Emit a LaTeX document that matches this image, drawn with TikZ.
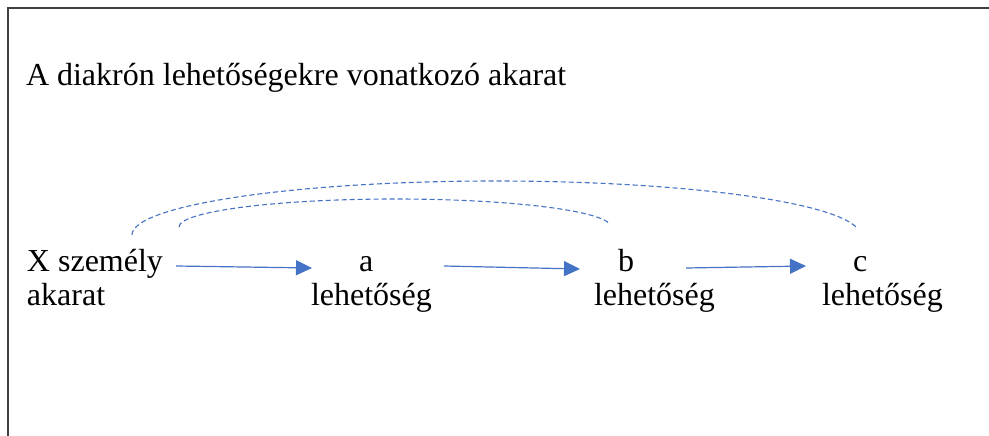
\documentclass[tikz,border=0pt]{standalone}
\usepackage{fontspec}
\setmainfont{Liberation Serif}
\usetikzlibrary{arrows.meta}
\definecolor{accentblue}{RGB}{68,114,196}
\definecolor{framegray}{RGB}{64,64,64}
\tikzset{
  txt/.style={anchor=base west, inner sep=0pt, outer sep=0pt, font=\fontsize{32}{34}\selectfont},
  flow/.style={draw=accentblue, line width=1.2pt, -{Triangle[length=16pt,width=15pt]}},
  link/.style={draw=accentblue, line width=1.1pt, dash pattern=on 5pt off 3pt},
  frameline/.style={draw=framegray, line width=2pt}
}
\begin{document}
\begin{tikzpicture}[x=1pt,y=-1pt]
\useasboundingbox (0,0) rectangle (989,436);
% frame
\coordinate (fbl) at (8,437);
\coordinate (ftl) at (8,8);
\coordinate (ftr) at (990,8);
\draw[frameline] (fbl) -- (ftl) -- (ftr);
% texts
\node[txt] (title) at (26,86) {A diakrón lehetőségekre vonatkozó akarat};
\node[txt] (x1) at (27,271) {X személy};
\node[txt] (x2) at (27,305) {akarat};
\node[txt] (a1) at (359,271) {a};
\node[txt] (a2) at (311,305) {lehetőség};
\node[txt] (b1) at (618,271) {b};
\node[txt] (b2) at (594,305) {lehetőség};
\node[txt] (c1) at (853,271) {c};
\node[txt] (c2) at (822,305) {lehetőség};
% arrows
\coordinate (s1) at (176,266);
\coordinate (e1) at (312,268);
\coordinate (s2) at (444,266);
\coordinate (e2) at (580,269);
\coordinate (s3) at (686,268);
\coordinate (e3) at (806,266);
\draw[flow] (s1) -- (e1);
\draw[flow] (s2) -- (e2);
\draw[flow] (s3) -- (e3);
% dashed arcs
\coordinate (o1) at (132,235);
\coordinate (i1) at (179,227);
\draw[link] (o1) arc[start angle=180, end angle=352, x radius=364, y radius=54];
\draw[link] (i1) arc[start angle=180, end angle=354, x radius=216, y radius=28];
\end{tikzpicture}
\end{document}
